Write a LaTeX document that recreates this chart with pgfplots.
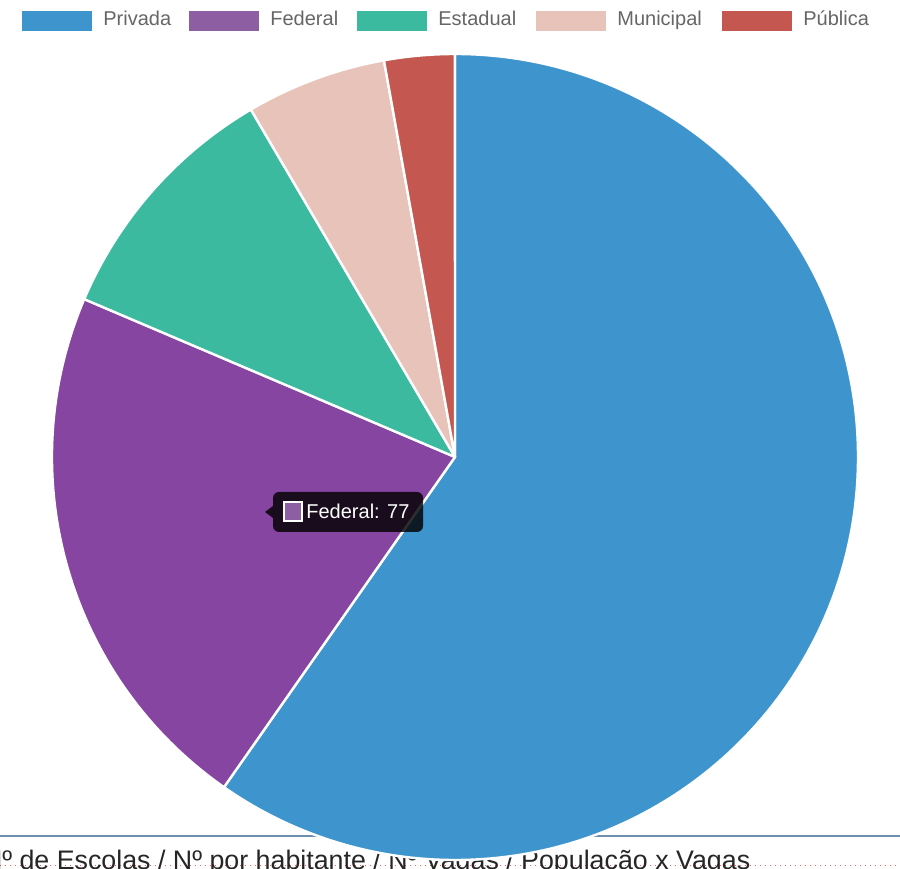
\documentclass[border=0pt]{standalone}
\usepackage{fontspec}
\setmainfont{Liberation Sans}
\usepackage{pgfplots}
\usepackage{pgfplotstable}
\pgfplotsset{compat=1.18}
\definecolor{cPrivada}{HTML}{3E95CD}
\definecolor{cFederal}{HTML}{8E5EA2}
\definecolor{cFederalHover}{RGB}{135,69,162}
\definecolor{cEstadual}{HTML}{3CBA9F}
\definecolor{cMunicipal}{HTML}{E8C3B9}
\definecolor{cPublica}{HTML}{C45850}
\definecolor{legtext}{HTML}{666666}
\definecolor{sepline}{RGB}{111,143,175}
\colorlet{pie0}{cPrivada}
\colorlet{pie1}{cFederalHover}
\colorlet{pie2}{cEstadual}
\colorlet{pie3}{cMunicipal}
\colorlet{pie4}{cPublica}

\pgfplotstableread{
label value
Privada 212
Federal 77
Estadual 36
Municipal 20
Pública 10
}\piedata

\begin{document}
\begin{tikzpicture}[x=0.5pt,y=0.5pt]
\useasboundingbox (0,0) rectangle (900,868);
\clip (0,0) rectangle (900,868);
% page elements below the chart
\draw[sepline, line width=1pt] (0,32) -- (900,32);
\draw[red!65, dotted, line width=0.5pt] (0,3) -- (900,3);
\node[anchor=base west, inner sep=0, text=black!85, font=\fontsize{13.4}{16}\selectfont] at (-17.4,-2) {Nº de Escolas / Nº por habitante / Nº Vagas / População x Vagas};
% pie
\begin{axis}[at={(455,411)}, anchor=origin, x=0.5pt, y=0.5pt,
  xmin=-455, xmax=445, ymin=-411, ymax=457, hide axis, clip=false]
\gdef\startang{90}
\pgfplotsinvokeforeach{0,...,4}{
  \pgfplotstablegetelem{#1}{value}\of\piedata
  \pgfmathsetmacro\sweep{\pgfplotsretval/355*360}
  \pgfmathsetmacro\endang{\startang-\sweep}
  \edef\doit{\noexpand\fill[fill=pie#1, draw=white, line width=1.2pt, line join=round]
    (axis cs:0,0) -- (axis cs:{403*cos(\startang)},{403*sin(\startang)})
    arc[start angle=\startang, end angle=\endang, radius=201.5pt] -- cycle;}
  \doit
  \xdef\startang{\endang}
}
\end{axis}
% tooltip
\fill[black, opacity=0.82, rounded corners=3pt] (273,336) rectangle (423,376);
\fill[black, opacity=0.82] (265,356) -- (273,362) -- (273,350) -- cycle;
\draw[white, fill=cFederal, line width=0.8pt] (284,347) rectangle (302,366);
\node[anchor=west, inner sep=0, text=white, font=\fontsize{10}{12}\selectfont] at (306,357) {Federal: 77};
% legend
\foreach \bx/\tx/\c/\lab in {22/103/cPrivada/Privada, 189/270/cFederal/Federal, 357/438/cEstadual/Estadual, 536/617/cMunicipal/Municipal, 722/803/cPublica/Pública}{
  \fill[\c] (\bx,837) rectangle ++(70,20);
  \node[anchor=base west, inner sep=0, text=legtext, font=\fontsize{10}{12}\selectfont] at (\tx,842) {\lab};
}
\end{tikzpicture}
\end{document}
